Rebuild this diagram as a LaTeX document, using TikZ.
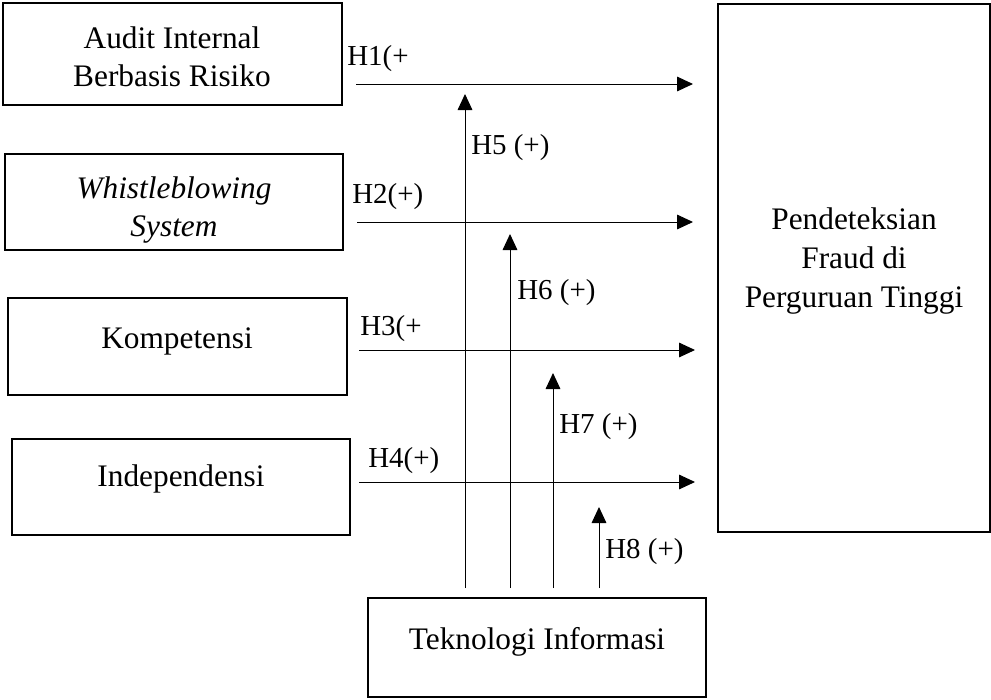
\documentclass[tikz,border=0pt]{standalone}
\usepackage{fontspec}
\setmainfont{Liberation Serif}
\usetikzlibrary{arrows.meta,fit}
\begin{document}
\begin{tikzpicture}[x=0.75pt,y=-0.75pt,
  box/.style={draw,line width=1.5pt,inner sep=0pt},
  txt/.style={font=\fontsize{23.5}{28.5}\selectfont,align=center,inner sep=0pt},
  lbl/.style={font=\fontsize{21.7}{26}\selectfont,anchor=base west,inner sep=0pt},
  arr/.style={line width=0.75pt,-{Triangle[length=12pt,width=11pt]}}]
\useasboundingbox (0,0) rectangle (991,699);
% boxes
\node[box,fit={(3,3) (342,105)}] (b1) {};
\node[box,fit={(5,154) (343,250)}] (b2) {};
\node[box,fit={(8,298) (347,395)}] (b3) {};
\node[box,fit={(12,439) (350,535)}] (b4) {};
\node[box,fit={(718,4) (990,532)}] (tgt) {};
\node[box,fit={(368,598) (706,697)}] (tek) {};
% texts
\node[txt] (t1) at (172,57) {Audit Internal\\Berbasis Risiko};
\node[txt] (t2) at (174,210) {\itshape Whistleblowing\\\itshape System};
\node[txt] (t3) at (177,341) {Kompetensi};
\node[txt] (t4) at (181,479) {Independensi};
\node[txt,font=\fontsize{23.5}{29.6}\selectfont] (tt) at (854,261) {Pendeteksian\\Fraud di\\Perguruan Tinggi};
\node[txt] (tk) at (537,642) {Teknologi Informasi};
% connector end points
\coordinate (h1s) at (356,84);  \coordinate (h1e) at (693,84);
\coordinate (h2s) at (357,222); \coordinate (h2e) at (693,222);
\coordinate (h3s) at (359,350); \coordinate (h3e) at (695,350);
\coordinate (h4s) at (359,482); \coordinate (h4e) at (695,482);
\coordinate (h5s) at (465,588); \coordinate (h5e) at (465,94);
\coordinate (h6s) at (510,588); \coordinate (h6e) at (510,234);
\coordinate (h7s) at (553,588); \coordinate (h7e) at (553,373);
\coordinate (h8s) at (599,588); \coordinate (h8e) at (599,507);
\draw[arr] (h1s) -- (h1e);
\draw[arr] (h2s) -- (h2e);
\draw[arr] (h3s) -- (h3e);
\draw[arr] (h4s) -- (h4e);
\draw[arr] (h5s) -- (h5e);
\draw[arr] (h6s) -- (h6e);
\draw[arr] (h7s) -- (h7e);
\draw[arr] (h8s) -- (h8e);
% labels
\node[lbl] (l1) at (347,65) {H1(+};
\node[lbl] (l2) at (352,203) {H2(+)};
\node[lbl] (l3) at (360,335) {H3(+};
\node[lbl] (l4) at (368,467) {H4(+)};
\node[lbl] (l5) at (471,154) {H5 (+)};
\node[lbl] (l6) at (517,299) {H6 (+)};
\node[lbl] (l7) at (559,433) {H7 (+)};
\node[lbl] (l8) at (605,558) {H8 (+)};
\end{tikzpicture}
\end{document}
